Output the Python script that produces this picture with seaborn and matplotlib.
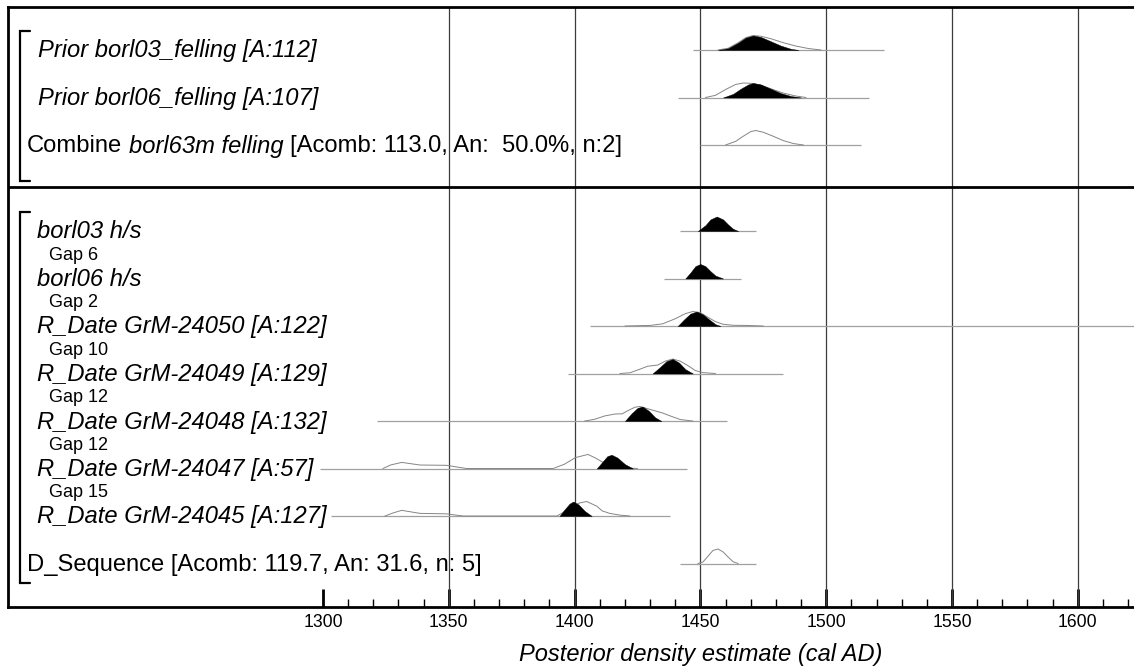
import numpy as np
import pandas as pd
import matplotlib
matplotlib.use("Agg")
import matplotlib.pyplot as plt
import seaborn as sns

# ---- data (cal AD) ----
top_names = ["Prior borl03_felling [A:112]", "Prior borl06_felling [A:107]"]
combine_parts = [("Combine", "normal"), ("borl63m felling", "italic"),
                 ("[Acomb: 113.0, An:  50.0%, n:2]", "normal")]
seq_names = ["borl03 h/s", "borl06 h/s", "R_Date GrM-24050 [A:122]",
             "R_Date GrM-24049 [A:129]", "R_Date GrM-24048 [A:132]",
             "R_Date GrM-24047 [A:57]", "R_Date GrM-24045 [A:127]"]
gap_names = ["Gap 6", "Gap 2", "Gap 10", "Gap 12", "Gap 12", "Gap 15"]
dseq_label = "D_Sequence [Acomb: 119.7, An: 31.6, n: 5]"

# range bars under each distribution
top_range = [(1447, 1523), (1441, 1517), (1450, 1514)]
seq_range = [(1442, 1472), (1435.5, 1466), (1406, 1640), (1397.5, 1483),
             (1321.5, 1460.5), (1299, 1444.5), (1303, 1438), (1442, 1472)]

# prior / likelihood outlines (relative height, 1 = peak)
p03_yr = [1457, 1461, 1465, 1468, 1471, 1474, 1478, 1483, 1488, 1493, 1498]
p03_h = [0, 0.12, 0.5, 0.85, 1.0, 0.95, 0.78, 0.5, 0.27, 0.1, 0]
p06_yr = [1452, 1456, 1460, 1464, 1467, 1470, 1474, 1478, 1483, 1488, 1492]
p06_h = [0, 0.15, 0.55, 0.9, 1.0, 0.98, 0.85, 0.6, 0.3, 0.1, 0]
comb_yr = [1460, 1464, 1467, 1470, 1472, 1475, 1479, 1483, 1487, 1491]
comb_h = [0, 0.25, 0.6, 0.92, 1.0, 0.88, 0.6, 0.3, 0.1, 0]
l50_yr = [1420, 1430, 1435, 1440, 1444, 1447, 1450, 1453, 1456, 1459, 1463, 1468, 1475]
l50_h = [0, 0.04, 0.15, 0.5, 0.85, 1.0, 0.92, 0.6, 0.3, 0.12, 0.05, 0.04, 0]
l49_yr = [1418, 1422, 1426, 1429, 1433, 1436, 1439, 1442, 1445, 1448, 1451, 1456]
l49_h = [0, 0.05, 0.3, 0.5, 0.58, 0.85, 1.0, 0.85, 0.55, 0.2, 0.06, 0]
l48_yr = [1404, 1408, 1412, 1416, 1419, 1421, 1424, 1426, 1429, 1432, 1435, 1438, 1442, 1447]
l48_h = [0, 0.12, 0.35, 0.48, 0.5, 0.7, 0.95, 1.0, 0.85, 0.7, 0.55, 0.35, 0.1, 0]
l47_yr = [1323.8, 1327, 1331.3, 1338.6, 1349, 1357, 1391.5, 1396, 1400.3, 1405.3, 1408, 1411, 1414, 1418, 1425]
l47_h = [0, 0.25, 0.42, 0.24, 0.22, 0, 0, 0.3, 0.75, 0.97, 0.75, 0.45, 0.2, 0.05, 0]
l45_yr = [1324.6, 1328, 1331.3, 1338.6, 1349, 1355.6, 1393, 1396, 1399, 1402, 1404.8, 1408.8, 1411, 1414, 1418, 1422]
l45_h = [0, 0.22, 0.39, 0.18, 0.15, 0, 0, 0.3, 0.65, 0.9, 1.0, 0.68, 0.35, 0.18, 0.06, 0]
dseq_yr = [1449, 1451, 1453, 1455, 1457, 1459, 1461, 1463, 1465]
dseq_h = [0, 0.1, 0.5, 0.9, 1.0, 0.8, 0.45, 0.12, 0]

# posteriors (filled)
q03_yr = [1457, 1461, 1465, 1468, 1471, 1474, 1478, 1482, 1486, 1489]
q03_h = [0, 0.12, 0.5, 0.85, 1.0, 0.9, 0.6, 0.3, 0.08, 0]
q06_yr = [1459, 1463, 1466, 1469, 1471, 1474, 1478, 1482, 1486, 1490]
q06_h = [0, 0.25, 0.6, 0.9, 1.0, 0.9, 0.6, 0.3, 0.1, 0]
hs03_yr = [1449, 1452, 1454, 1456.5, 1459, 1461, 1463, 1465]
hs03_h = [0, 0.4, 0.8, 1.0, 0.8, 0.45, 0.15, 0]
hs06_yr = [1444, 1446, 1448, 1450, 1452, 1454, 1456, 1459]
hs06_h = [0, 0.4, 0.85, 1.0, 0.85, 0.5, 0.2, 0]
r50_yr = [1441, 1443.5, 1446, 1448.5, 1451, 1453.5, 1456, 1458]
r50_h = [0, 0.45, 0.85, 1.0, 0.8, 0.45, 0.12, 0]
r49_yr = [1431, 1434, 1436.5, 1439, 1441.5, 1444, 1447]
r49_h = [0, 0.45, 0.85, 1.0, 0.75, 0.3, 0]
r48_yr = [1420, 1422.5, 1425, 1427, 1429.5, 1432, 1434.5]
r48_h = [0, 0.5, 0.9, 1.0, 0.7, 0.25, 0]
r47_yr = [1408.8, 1411, 1413, 1414.7, 1417, 1420, 1423.2]
r47_h = [0, 0.45, 0.85, 0.95, 0.75, 0.3, 0]
r45_yr = [1394, 1396, 1398, 1399.5, 1401.5, 1404, 1406.8]
r45_h = [0, 0.45, 0.85, 1.0, 0.8, 0.35, 0]

# ---- layout ----
W, H = 1134, 672
PX_PER_YR = 2.516
X0_YR = 1300 - (323 - 8) / PX_PER_YR
X1_YR = 1300 + (1138 - 323) / PX_PER_YR
PEAK = 14.5

def px2yr(px):
    return X0_YR + (px - 8) / PX_PER_YR

top_y = [50, 97.5, 145]
seq_y = [231 + 47.5 * k for k in range(8)]

sns.set_style("white")
plt.rcParams['font.family'] = ['Liberation Sans', 'DejaVu Sans']
plt.rcParams['text.color'] = 'black'
plt.rcParams['xtick.color'] = 'black'

fig = plt.figure(figsize=(W / 100, H / 100), dpi=100)
ax = fig.add_axes([8 / W, (H - 607) / H, (1138 - 8) / W, 600 / H])
ax.set_xlim(X0_YR, X1_YR)
ax.set_ylim(607, 7)

# grid lines
ax.vlines([1350, 1400, 1450, 1500, 1550, 1600], 7, 607, color='#3c3c3c', lw=0.9, zorder=1)
ax.axhline(187, color='black', lw=2, zorder=5)

# range bars
for (a, b), y in zip(top_range + seq_range, top_y + seq_y):
    ax.hlines(y, a, b, color='#a0a0a0', lw=0.9, zorder=2)

outlines = [(p03_yr, p03_h, top_y[0]), (p06_yr, p06_h, top_y[1]), (comb_yr, comb_h, top_y[2]),
            (l50_yr, l50_h, seq_y[2]), (l49_yr, l49_h, seq_y[3]), (l48_yr, l48_h, seq_y[4]),
            (l47_yr, l47_h, seq_y[5]), (l45_yr, l45_h, seq_y[6]), (dseq_yr, dseq_h, seq_y[7])]
rows = []
for i, (yr, h, y0) in enumerate(outlines):
    for a, b in zip(yr, h):
        rows.append({'year': a, 'y': y0 - b * PEAK, 'curve': i})
df = pd.DataFrame(rows)
sns.lineplot(data=df, x='year', y='y', units='curve', estimator=None, sort=False,
             color='#858585', lw=0.7, ax=ax, zorder=3)

fills = [(q03_yr, q03_h, top_y[0]), (q06_yr, q06_h, top_y[1]),
         (hs03_yr, hs03_h, seq_y[0]), (hs06_yr, hs06_h, seq_y[1]),
         (r50_yr, r50_h, seq_y[2]), (r49_yr, r49_h, seq_y[3]), (r48_yr, r48_h, seq_y[4]),
         (r47_yr, r47_h, seq_y[5]), (r45_yr, r45_h, seq_y[6])]
for yr, h, y0 in fills:
    yr = np.array(yr)
    ax.fill_between(yr, y0, y0 - np.array(h) * PEAK, color='black', lw=0.3, zorder=4)

# brackets
for t, b in [(31, 181), (212, 583)]:
    ax.plot([px2yr(30), px2yr(20), px2yr(20), px2yr(30)], [t, t, b, b], color='black', lw=1.6,
            solid_joinstyle='miter', zorder=5)

# labels
LBL = 17.1
GAP = 13
for name, y in zip(top_names, top_y[:2]):
    ax.text(px2yr(38), y + 1, name, fontsize=LBL, style='italic', va='center', ha='left', zorder=6)
for name, y in zip(seq_names, seq_y[:7]):
    ax.text(px2yr(37), y + 1, name, fontsize=LBL, style='italic', va='center', ha='left', zorder=6)
for name, y0, y1 in zip(gap_names, seq_y[:6], seq_y[1:7]):
    ax.text(px2yr(49), (y0 + y1) / 2 + 0.5, name, fontsize=GAP, va='center', ha='left', zorder=6)
ax.text(px2yr(27), seq_y[7] + 1, dseq_label, fontsize=LBL, va='center', ha='left', zorder=6)

rend = fig.canvas.get_renderer()
x = 27
space = 0.278 * LBL * 100 / 72
for txt, st in combine_parts:
    t = ax.text(px2yr(x), top_y[2] + 1, txt, fontsize=LBL, style=st, va='center', ha='left', zorder=6)
    bb = t.get_window_extent(renderer=rend)
    x = bb.x1 + space

# axis
for s in ['top', 'left', 'bottom']:
    ax.spines[s].set_linewidth(2)
    ax.spines[s].set_color('black')
ax.spines['right'].set_visible(False)
ax.set_yticks([])
ax.set_xticks([1300, 1350, 1400, 1450, 1500, 1550, 1600])
ax.set_xticks(np.arange(1300, 1630, 10), minor=True)
ax.tick_params(axis='x', which='major', direction='in', length=13, width=2, labelsize=12.7, pad=5,
               bottom=True, top=False)
ax.tick_params(axis='x', which='minor', direction='in', length=6, width=1, bottom=True, top=False)
ax.set_xlabel('')
ax.set_ylabel('')
ax.text(1450, 655, 'Posterior density estimate (cal AD)', fontsize=17, style='italic',
        ha='center', va='center', clip_on=False)

fig.savefig('out.png', dpi=100)
